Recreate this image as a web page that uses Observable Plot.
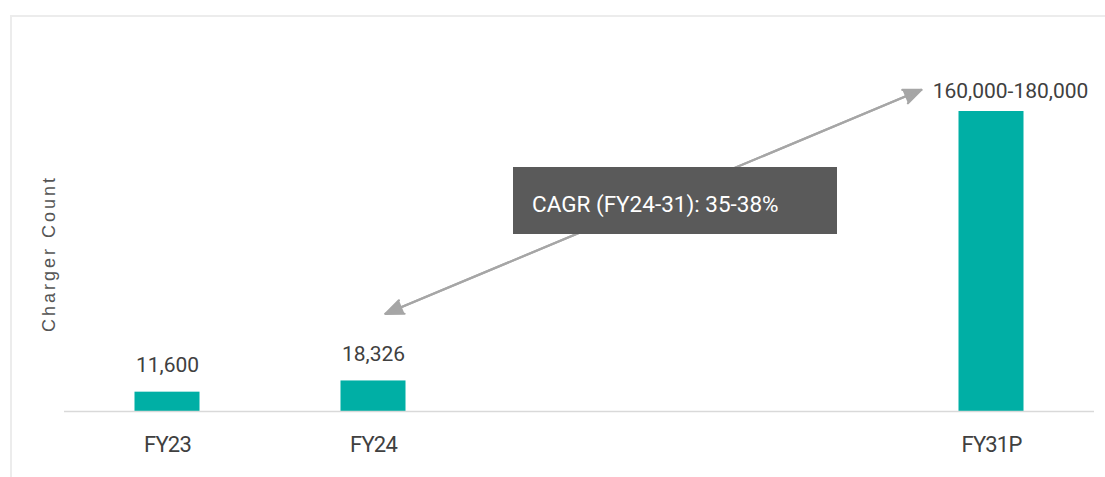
<!DOCTYPE html>
<html><head><meta charset="utf-8">
<script src="https://cdn.jsdelivr.net/npm/d3@7"></script>
<script src="https://cdn.jsdelivr.net/npm/@observablehq/plot@0.6"></script>
<style>
body{margin:0;background:#fff;}
#wrap{position:relative;width:1105px;height:477px;overflow:hidden;}
#border{position:absolute;left:10px;top:15px;right:-4px;bottom:-4px;border-top:2px solid #ececec;border-left:2px solid #ececec;}
#chart{position:absolute;left:0;top:0;}
.ylab text{letter-spacing:3px;}
.xtick text{letter-spacing:-0.8px;}
</style></head><body>
<div id="wrap"><div id="border"></div><div id="chart"></div></div>
<script>
// ---- data ----
const categories = ["FY23", "FY24", "FY31P"];
const slots = ["FY23", "FY24", "gap1", "gap2", "FY31P"];
const values = [11600, 18326, 180000];
const valueLabels = ["11,600", "18,326", "160,000-180,000"];
const yLabel = "Charger Count";
const cagrText = "CAGR (FY24-31): 35-38%";
const arrowFromCat = "FY24", arrowFromVal = 55600;
const arrowToCat = "FY31P", arrowToVal = 210600;
const boxVal = 126300;

const bars = categories.map((c, i) => ({cat: c, value: values[i], label: valueLabels[i]}));
const actualBars = bars.slice(0, 2);
const projectedBars = bars.slice(2);
const arrowData = [{x1: arrowFromCat, y1: arrowFromVal, x2: arrowToCat, y2: arrowToVal}];
const arrowBack = [{x1: arrowToCat, y1: arrowToVal, x2: arrowFromCat, y2: arrowFromVal}];

const textColor = "#404040";
const arrowColor = "#a6a6a6";

function cagrBox(index, {x, y}) {
  const cx = (x(arrowFromCat) + x(arrowToCat)) / 2 + x.bandwidth() / 2 - 7;
  const cy = y(boxVal);
  const g = d3.create("svg:g");
  g.append("rect")
    .attr("x", cx - 162).attr("y", cy - 33.5)
    .attr("width", 324).attr("height", 67)
    .attr("fill", "#5a5a5a");
  g.append("text")
    .attr("x", cx - 143).attr("y", cy + 11.5)
    .attr("fill", "#ffffff").attr("font-size", 22.5)
    .attr("text-anchor", "start")
    .attr("font-family", "Roboto")
    .text(cagrText);
  return g.node();
}

const chart = Plot.plot({
  width: 1105,
  height: 477,
  marginLeft: 64,
  marginRight: 11,
  marginTop: 111,
  marginBottom: 66,
  style: {fontFamily: "Roboto", background: "transparent", color: textColor},
  x: {domain: slots, padding: 0, axis: null},
  y: {domain: [0, 180000], axis: null},
  marks: [
    Plot.barY(bars, {x: "cat", y: "value", fill: "#00afa5", insetLeft: 70.5, insetRight: 70.5}),
    Plot.ruleY([0], {stroke: "#d9d9d9", strokeWidth: 1.5}),
    Plot.axisX({
      tickSize: 0, tickPadding: 24.5, fontSize: 22, label: null, className: "xtick",
      tickFormat: d => categories.includes(d) ? d : "",
      fill: textColor
    }),
    Plot.text(actualBars, {x: "cat", y: "value", text: "label", dy: -20, lineAnchor: "bottom",
      fontSize: 21, fill: textColor}),
    Plot.text(projectedBars, {x: "cat", y: "value", text: "label", dy: -14, dx: 19, lineAnchor: "bottom",
      fontSize: 21, fill: textColor}),
    Plot.text([yLabel], {text: d => d, frameAnchor: "left", textAnchor: "middle", rotate: -90, dx: -15, dy: -8,
      fontSize: 18, fontFamily: "Liberation Sans", fill: "#555", className: "ylab"}),
    Plot.arrow(arrowData, {x1: "x1", y1: "y1", x2: "x2", y2: "y2", stroke: arrowColor, fill: arrowColor,
      strokeWidth: 2.2, headLength: 13, headAngle: 45, insetStart: 13, insetEnd: 76}),
    Plot.arrow(arrowBack, {x1: "x1", y1: "y1", x2: "x2", y2: "y2", stroke: arrowColor, fill: arrowColor,
      strokeWidth: 2.2, headLength: 13, headAngle: 45, insetStart: 76, insetEnd: 13}),
    cagrBox
  ]
});
document.getElementById("chart").appendChild(chart);
</script>
</body></html>
